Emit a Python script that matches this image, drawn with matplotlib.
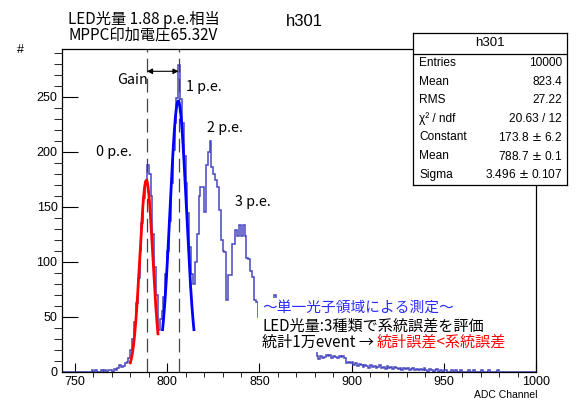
import numpy as np
import matplotlib.pyplot as plt
from matplotlib.patches import Rectangle

plt.rcParams['font.family'] = ['Liberation Sans', 'DejaVu Sans']
JP = ['Noto Sans CJK JP', 'DejaVu Sans']

# h301: one bin per ADC channel, first bin = 743
first_bin = 743
counts_low = [0, 0, 0, 0, 0, 0, 0, 0, 0, 0, 0, 0, 0, 0, 0, 0,
              1, 0, 1, 0, 0, 1, 0, 1, 0, 1, 1, 0, 2, 1, 3, 6, 4, 5, 8, 9]
counts_0pe = [12, 20, 30, 45, 62, 85, 110, 135, 158, 172, 188, 180, 160,
              125, 95, 70, 38]
counts_1pe = [48, 55, 68, 89, 110, 137, 171, 201, 226, 249, 279, 248, 226,
              196, 171, 144, 113, 89, 80, 100]
counts_2_3pe = [125, 160, 168, 168, 145, 188, 200, 210, 186, 180, 174, 168,
                147, 120, 110, 109, 65, 88, 88, 116, 116, 129, 123, 133, 123,
                133, 123, 103, 102, 91, 86, 65, 63]
counts_hidden = [50, 45, 48, 52, 55, 60, 58, 62, 65, 70, 62, 55, 50, 45, 48,
                 40, 38, 42, 35, 30, 33, 28, 30, 25, 22, 25, 20, 22, 20, 21,
                 20, 19]
counts_tail = [14, 11, 14, 12, 13, 15, 14, 15, 12, 14, 13, 12, 14, 13, 14, 12,
               8, 9, 8, 9, 6, 8, 5, 7, 6, 4, 6, 5, 3, 6, 4, 5, 3, 4, 6, 3, 4,
               2, 5, 3, 4, 2, 4, 3, 2, 3, 1, 3, 2, 3, 1, 2, 3, 1, 2, 1, 2, 1,
               3, 1,
               0, 2, 1, 0, 1, 2, 0, 1, 0, 1, 1, 0, 0, 1, 0, 1, 0, 0, 1, 0,
               0, 0, 1, 0, 0, 1, 0, 0, 0, 1, 0, 0, 0, 1, 0, 0, 0, 0, 1,
               0, 0, 0, 0, 0, 0, 0, 0, 0, 0, 0, 0, 0, 0, 0, 0, 0, 0, 0, 0]

# gaussian fits: constant, mean, sigma, fit range
fit_0pe = (173.8, 788.7, 3.496, 780.0, 795.0)
fit_1pe = (246.0, 806.0, 4.4, 797.5, 814.5)
peak_lines = [789.0, 806.2]

stats_title = 'h301'
stats_labels = ['Entries', 'Mean', 'RMS', 'χ² / ndf', 'Constant', 'Mean', 'Sigma']
stats_values = ['10000', '823.4', '27.22', '20.63 / 12', '173.8 $\\pm$ 6.2',
                '788.7 $\\pm$ 0.1', '3.496 $\\pm$ 0.107']

counts = np.array(counts_low + counts_0pe + counts_1pe + counts_2_3pe
                  + counts_hidden + counts_tail)
edges = np.arange(first_bin, first_bin + len(counts) + 1)

W, H = 582, 401
fig = plt.figure(figsize=(W / 100, H / 100), dpi=100)
ax = fig.add_axes([61.7 / W, 1 - 371.5 / H, (536 - 61.7) / W, (371.5 - 49.3) / H])


def ftext(x, y, s, **kw):
    fig.text(x / W, 1 - y / H, s, **kw)


ax.stairs(counts, edges, baseline=None, color='#4848c0', lw=1.1, zorder=2)

for c, m, s, lo, hi in (fit_0pe, fit_1pe):
    xx = np.linspace(lo, hi, 200)
    yy = c * np.exp(-0.5 * ((xx - m) / s) ** 2)
    col = 'red' if c == fit_0pe[0] else 'blue'
    ax.plot(xx, yy, color=col, lw=2, zorder=3)

for xv in peak_lines:
    ax.axvline(xv, color='#444444', lw=0.9, dashes=(11, 5), zorder=2.5)

ax.annotate('', xy=(peak_lines[1], 273), xytext=(peak_lines[0], 273),
            arrowprops=dict(arrowstyle='<|-|>', color='black', lw=0.8,
                            mutation_scale=8, shrinkA=0, shrinkB=0))

# white pave under the comment text
ax.add_patch(Rectangle((849, 17.7), 140, 49.5, facecolor='white',
                       edgecolor='none', zorder=4))

ax.set_xlim(742.8, 1000)
ax.set_ylim(0, 293)
ax.set_xticks([750, 800, 850, 900, 950, 1000])
ax.set_xticks(np.arange(750, 1001, 10), minor=True)
ax.set_yticks([0, 50, 100, 150, 200, 250])
ax.set_yticks(np.arange(0, 291, 10), minor=True)
ax.tick_params(direction='in', labelsize=9, pad=3)
ax.tick_params(axis='x', which='major', length=6.5)
ax.tick_params(axis='x', which='minor', length=3.4)
ax.tick_params(axis='y', which='major', length=11.5)
ax.tick_params(axis='y', which='minor', length=6)
for sp in ax.spines.values():
    sp.set_linewidth(0.9)

# labels
ftext(68, 19, 'LED光量 1.88 p.e.相当', family=JP, fontsize=11, va='center')
ftext(68, 35, 'MPPC印加電圧65.32V', family=JP, fontsize=11, va='center')
ftext(304, 21, 'h301', fontsize=12, ha='center', va='center')
ftext(20, 50, '#', fontsize=9, ha='center', va='center')
ftext(537, 395, 'ADC Channel', fontsize=7.5, ha='right', va='center')
ftext(132, 80, 'Gain', family=JP, fontsize=10.3, ha='center', va='center')
ftext(186, 87, '1 p.e.', family=JP, fontsize=10.3, va='center')
ftext(207, 128, '2 p.e.', family=JP, fontsize=10.3, va='center')
ftext(96, 152, '0 p.e.', family=JP, fontsize=10.3, va='center')
ftext(235, 202, '3 p.e.', family=JP, fontsize=10.3, va='center')
ftext(262, 308, '～単一光子領域による測定～', family=JP, fontsize=10.6,
      color='#2a2aff', va='center')
ftext(262, 326, 'LED光量:3種類で系統誤差を評価', family=JP, fontsize=10.9,
      va='center')
ftext(262, 342, '統計1万event →', family=JP, fontsize=10.9, va='center')
ftext(377, 342, '統計誤差<系統誤差', family=JP, fontsize=10.9, color='red',
      va='center')

# stats box
sx0, sx1, sy0, sy1 = 413, 567, 33, 185
sb = fig.add_axes([sx0 / W, 1 - sy1 / H, (sx1 - sx0) / W, (sy1 - sy0) / H])
sb.set_xticks([])
sb.set_yticks([])
sb.set_xlim(sx0, sx1)
sb.set_ylim(sy1, sy0)
for sp in sb.spines.values():
    sp.set_linewidth(0.9)
sb.axhline(53.5, color='black', lw=0.9)
sb.text((sx0 + sx1) / 2, 43, stats_title, fontsize=9.5, ha='center', va='center')
for i, (lab, val) in enumerate(zip(stats_labels, stats_values)):
    yy = 63 + 18.6 * i
    sb.text(419.5, yy, lab, fontsize=8.6, va='center')
    sb.text(562, yy, val, fontsize=8.6, ha='right', va='center')

fig.savefig('out.png', dpi=100)
